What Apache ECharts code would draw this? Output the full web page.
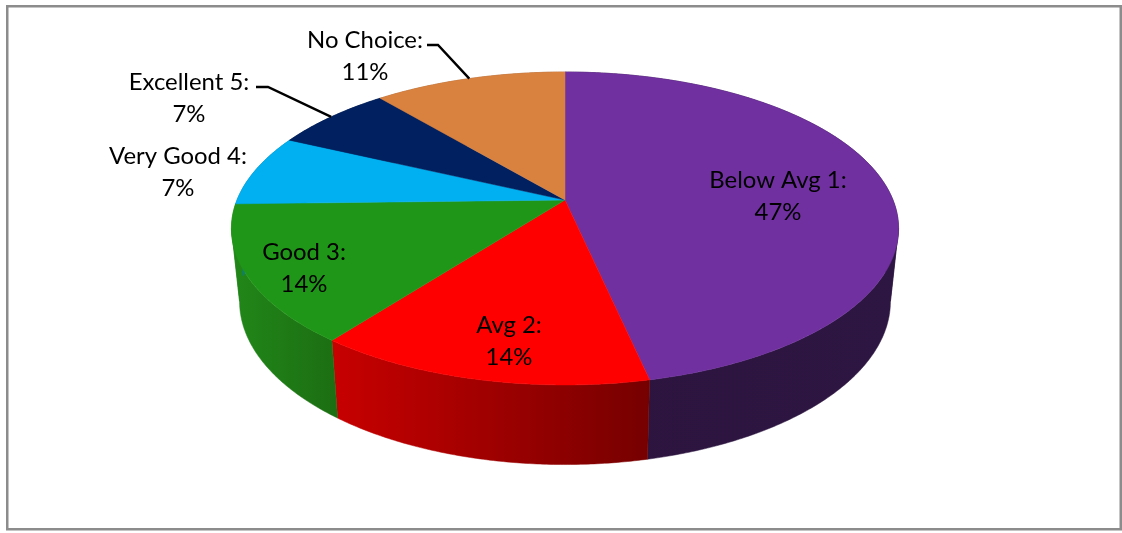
<!DOCTYPE html>
<html>
<head>
<meta charset="utf-8">
<style>html,body{margin:0;padding:0;background:#fff}#c{width:1122px;height:533px}</style>
<script src="https://cdn.jsdelivr.net/npm/echarts@6/dist/echarts.min.js"></script>
</head>
<body>
<div id="c"></div>
<script>
// Data (percent shares; labels show them rounded)
const categories = ['Below Avg 1', 'Avg 2', 'Good 3', 'Very Good 4', 'Excellent 5', 'No Choice'];
const shares = [46.6, 13.8, 14.2, 7.4, 6.9, 11.1];

// Styles
const topColors = ['#7030a0', '#ff0000', '#209618', '#00b0f0', '#002060', '#d98240'];
const wallStops = [
  ['#2c143f', '#2e1642'],
  ['#c80000', '#760000'],
  ['#218719', '#1c6e12'],
  ['#007ba8', '#007ba8'],
  ['#001643', '#001643'],
  ['#98592b', '#98592b']
];
const FONT = 'Lato, Carlito, sans-serif', FONT_SIZE = 23.9;
// Label layout: line centre x, first-line y, optional leader elbow
const labelLayout = [
  {x: 778, y: 180.3},
  {x: 509, y: 325.3},
  {x: 304, y: 252.3},
  {x: 178, y: 156.3},
  {x: 189, y: 82.3, from: [256, 87], elbow: [268, 87]},
  {x: 365, y: 40.3, from: [427, 45], elbow: [438, 45]}
];
const LINE_GAP = 31.5;

// Perspective projection of the pie disc (top and bottom faces)
const K = 0.182, CX = 565;
const topFace = {a: 200, b: -114.9, R: 328};
const botFace = {a: 271.7, b: -108.3, R: 320};
// Angles at which the projected rim turns back (left and right silhouette)
const FOLD_R = Math.acos(-K) * 180 / Math.PI, FOLD_L = 360 - FOLD_R;
function project(face, deg) {
  const t = deg * Math.PI / 180, X = Math.sin(t), Y = Math.cos(t), d = 1 + K * Y;
  return [CX + face.R * X / d, (face.a + face.b * Y) / d];
}
const total = shares.reduce((a, b) => a + b, 0);
function angles(i) {
  let s = 0;
  for (let j = 0; j < i; j++) s += shares[j];
  return [s / total * 360, (s + shares[i]) / total * 360];
}
function arc(face, a0, a1) {
  const pts = [], n = Math.max(2, Math.ceil((a1 - a0) * 2));
  for (let k = 0; k <= n; k++) pts.push(project(face, a0 + (a1 - a0) * k / n));
  return pts;
}

function renderWall(params, api) {
  const i = params.dataIndex;
  const [a0, a1] = angles(i);
  // split at the folds so each band polygon is simple and the silhouette stays filled
  const cuts = [a0];
  [FOLD_R, FOLD_L].forEach(f => { if (f > a0 && f < a1) cuts.push(f); });
  cuts.push(a1);
  const t = arc(topFace, a0, a1), b = arc(botFace, a0, a1);
  const xs = t.concat(b).map(p => p[0]);
  const minX = Math.min.apply(null, xs), maxX = Math.max.apply(null, xs);
  const st = wallStops[i];
  const fill = new echarts.graphic.LinearGradient(minX, 0, maxX, 0,
    [{offset: 0, color: st[0]}, {offset: 1, color: st[1]}], true);
  const children = [];
  for (let k = 0; k < cuts.length - 1; k++) {
    const tt = arc(topFace, cuts[k], cuts[k + 1]);
    const bb = arc(botFace, cuts[k], cuts[k + 1]).reverse();
    children.push({
      type: 'polygon',
      shape: {points: tt.concat(bb)},
      style: {fill: fill, stroke: fill, lineWidth: 0.5}
    });
  }
  return {type: 'group', children: children};
}

function renderTop(params, api) {
  const i = params.dataIndex;
  const [a0, a1] = angles(i);
  const pts = [[CX, topFace.a]].concat(arc(topFace, a0, a1));
  return {
    type: 'polygon',
    shape: {points: pts},
    style: {fill: topColors[i], stroke: topColors[i], lineWidth: 0.5}
  };
}

function renderLabel(params, api) {
  const i = params.dataIndex;
  const L = labelLayout[i];
  const [a0, a1] = angles(i);
  const children = [
    {type: 'text', style: {text: categories[i] + ':', x: L.x, y: L.y, align: 'center', verticalAlign: 'middle', font: FONT_SIZE + 'px ' + FONT, fill: '#000'}},
    {type: 'text', style: {text: Math.round(api.value(0)) + '%', x: L.x, y: L.y + LINE_GAP, align: 'center', verticalAlign: 'middle', font: FONT_SIZE + 'px ' + FONT, fill: '#000'}}
  ];
  if (L.from) {
    children.push({
      type: 'polyline',
      shape: {points: [L.from, L.elbow, project(topFace, (a0 + a1) / 2)]},
      style: {stroke: '#000', lineWidth: 2.4, fill: null}
    });
  }
  return {type: 'group', children: children};
}

const seriesData = shares.map((v, i) => ({name: categories[i], value: [v]}));
const chart = echarts.init(document.getElementById('c'), null, {renderer: 'canvas'});
chart.setOption({
  backgroundColor: '#fff',
  animation: false,
  graphic: [{
    type: 'rect', silent: true, z: 0,
    shape: {x: 7.25, y: 6.25, width: 1113.5, height: 523},
    style: {fill: 'none', stroke: '#8c8c8c', lineWidth: 2.5}
  }],
  series: [
    {type: 'custom', coordinateSystem: 'none', z: 2, silent: true, renderItem: renderWall, data: seriesData},
    {type: 'custom', coordinateSystem: 'none', z: 3, silent: true, renderItem: renderTop, data: seriesData},
    {type: 'custom', coordinateSystem: 'none', z: 4, silent: true, renderItem: renderLabel, data: seriesData}
  ]
});
</script>
</body>
</html>
